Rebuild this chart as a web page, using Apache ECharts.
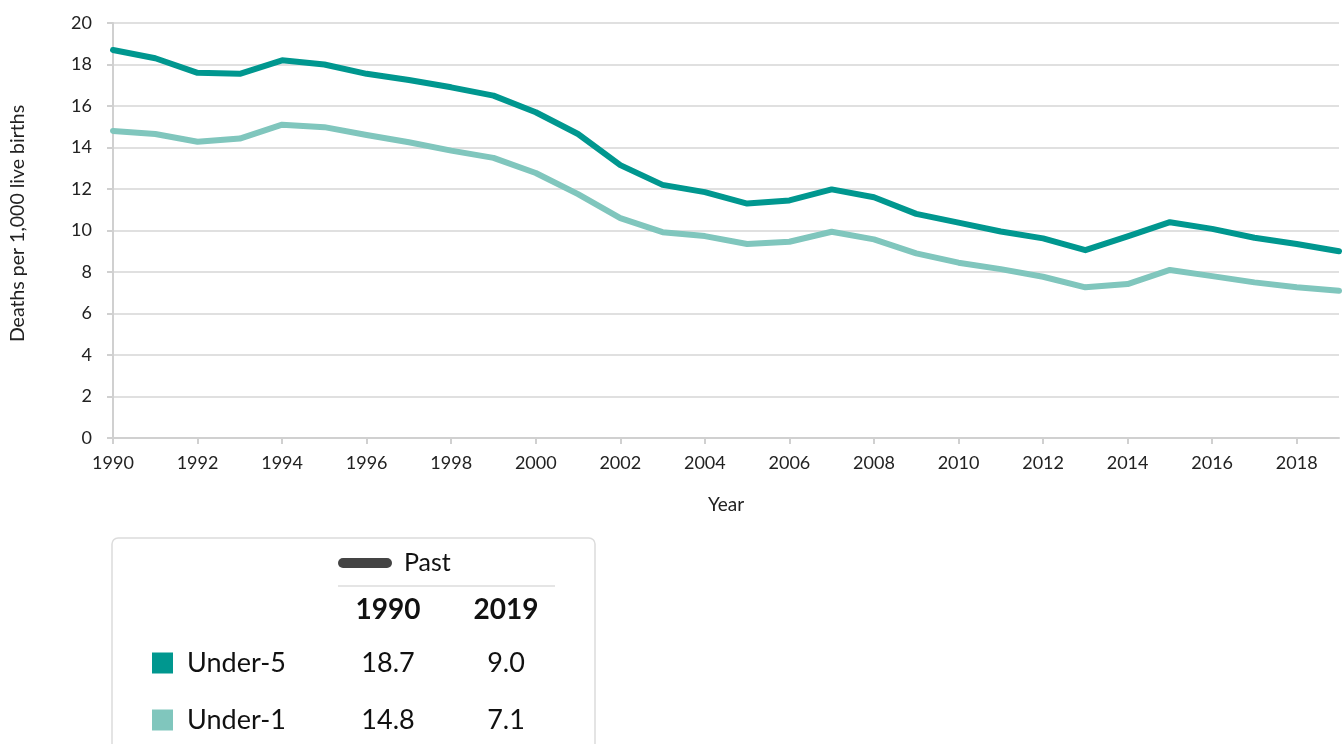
<!DOCTYPE html>
<html>
<head>
<meta charset="utf-8">
<script src="https://cdn.jsdelivr.net/npm/echarts@6/dist/echarts.min.js"></script>
<style>
html,body{margin:0;padding:0;background:#fff;}
#chart{width:1344px;height:744px;}
</style>
</head>
<body>
<div id="chart"></div>
<script>
const years = [1990,1991,1992,1993,1994,1995,1996,1997,1998,1999,2000,2001,2002,2003,2004,2005,2006,2007,2008,2009,2010,2011,2012,2013,2014,2015,2016,2017,2018,2019];
const under5 = [18.7,18.3,17.6,17.55,18.2,18.0,17.55,17.25,16.9,16.5,15.7,14.65,13.15,12.2,11.85,11.3,11.45,11.98,11.6,10.8,10.38,9.95,9.62,9.05,9.72,10.4,10.08,9.65,9.35,9.0];
const under1 = [14.8,14.65,14.28,14.43,15.1,14.98,14.6,14.25,13.85,13.5,12.77,11.75,10.6,9.92,9.73,9.35,9.46,9.94,9.57,8.9,8.45,8.14,7.77,7.26,7.42,8.1,7.8,7.5,7.27,7.1];
const seriesNames = ['Under-5','Under-1'];
const colors = ['#00978f','#80c6bd'];
const FONT = 'Lato, "Noto Sans", sans-serif';

const chart = echarts.init(document.getElementById('chart'));
const allData = [under5, under1];
const startYear = years[0], endYear = years[years.length-1];

const graphics = [
  {type:'rect', shape:{x:112,y:538,width:483,height:240,r:6}, style:{fill:'#fff',stroke:'#dcdcdc',lineWidth:1.5}, z:10},
  {type:'rect', shape:{x:338,y:558,width:54,height:10,r:5}, style:{fill:'#444'}, z:11},
  {type:'text', x:404, y:563, style:{text:'Past', font:'25px '+FONT, fill:'#111', verticalAlign:'middle', align:'left'}, z:11},
  {type:'line', shape:{x1:338,y1:586,x2:555,y2:586}, style:{stroke:'#dddddd',lineWidth:1.5}, z:11},
  {type:'text', x:388, y:610, style:{text:String(startYear), font:'bold 28px '+FONT, fill:'#111', verticalAlign:'middle', align:'center'}, z:11},
  {type:'text', x:506, y:610, style:{text:String(endYear), font:'bold 28px '+FONT, fill:'#111', verticalAlign:'middle', align:'center'}, z:11}
];
const rowY = [663, 720];
seriesNames.forEach((nm,i)=>{
  const d = allData[i];
  graphics.push({type:'rect', shape:{x:152,y:rowY[i]-10.5,width:21,height:21}, style:{fill:colors[i]}, z:11});
  graphics.push({type:'text', x:187, y:rowY[i], style:{text:nm, font:'27px '+FONT, fill:'#111', verticalAlign:'middle', align:'left'}, z:11});
  graphics.push({type:'text', x:388, y:rowY[i], style:{text:d[0].toFixed(1), font:'27px '+FONT, fill:'#111', verticalAlign:'middle', align:'center'}, z:11});
  graphics.push({type:'text', x:506, y:rowY[i], style:{text:d[d.length-1].toFixed(1), font:'27px '+FONT, fill:'#111', verticalAlign:'middle', align:'center'}, z:11});
});

chart.setOption({
  animation:false,
  textStyle:{fontFamily:FONT},
  grid:{left:113, right:5, top:23, height:415, containLabel:false},
  xAxis:{
    type:'value', min:1990, max:2019, interval:2,
    name:'Year', nameLocation:'middle', nameGap:57,
    nameTextStyle:{fontSize:19, color:'#222', fontFamily:FONT},
    axisLine:{show:true, lineStyle:{color:'#d0d0d0', width:2}},
    axisTick:{show:true, length:6, lineStyle:{color:'#d0d0d0', width:2}},
    axisLabel:{fontSize:18, color:'#222', margin:16, showMaxLabel:false, formatter:v=>String(v)},
    splitLine:{show:false}
  },
  yAxis:{
    type:'value', min:0, max:20, interval:2,
    name:'Deaths per 1,000 live births', nameLocation:'middle', nameGap:85,
    nameTextStyle:{fontSize:19.5, color:'#222', fontFamily:FONT, padding:[0,0,0,14]},
    axisLine:{show:true, lineStyle:{color:'#d0d0d0', width:2}},
    axisTick:{show:true, length:6, lineStyle:{color:'#d0d0d0', width:2}},
    axisLabel:{fontSize:18, color:'#222', margin:21},
    splitLine:{show:true, lineStyle:{color:'#d6d6d6', width:1.5}}
  },
  series: seriesNames.map((nm,i)=>({
    name:nm, type:'line', showSymbol:false, symbol:'none',
    data: years.map((y,j)=>[y, allData[i][j]]),
    lineStyle:{color:colors[i], width:6, cap:'round', join:'round'},
    itemStyle:{color:colors[i]},
    z: 3 - i
  })),
  graphic: graphics
});
</script>
</body>
</html>
